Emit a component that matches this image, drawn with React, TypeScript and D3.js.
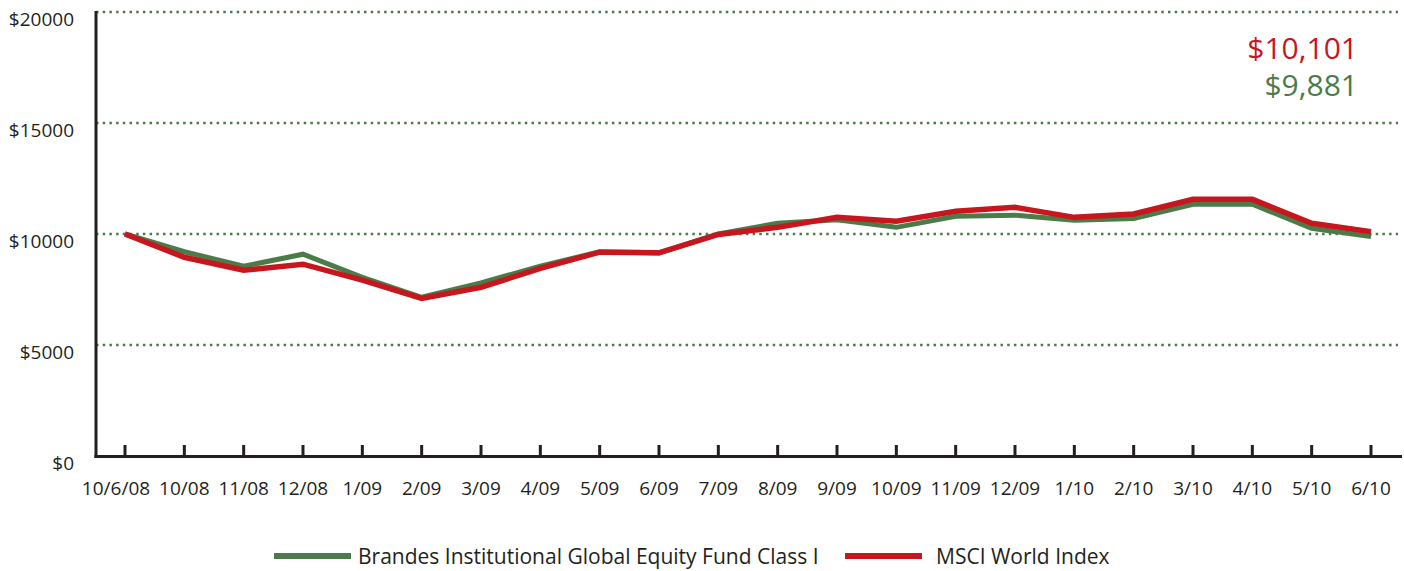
import { useEffect, useRef } from "react";
import * as d3 from "d3";

const dates = [
  "10/6/08", "10/08", "11/08", "12/08", "1/09", "2/09", "3/09", "4/09", "5/09", "6/09", "7/09",
  "8/09", "9/09", "10/09", "11/09", "12/09", "1/10", "2/10", "3/10", "4/10", "5/10", "6/10",
];

const fundValues = [
  10000, 9200, 8550, 9090, 8050, 7150, 7800, 8550, 9200, 9150, 10000,
  10480, 10640, 10300, 10800, 10850, 10620, 10700, 11340, 11340, 10260, 9881,
];

const indexValues = [
  10000, 8950, 8370, 8640, 7920, 7100, 7600, 8450, 9180, 9150, 9980,
  10300, 10750, 10575, 11025, 11200, 10750, 10900, 11560, 11560, 10480, 10101,
];

const yTicks = [0, 5000, 10000, 15000, 20000];

const seriesNames = ["Brandes Institutional Global Equity Fund Class I", "MSCI World Index"];

const GREEN = "#4b7b49";
const RED = "#c8161e";
const INK = "#231f20";
const FONT = "'Open Sans', sans-serif";

export default function App() {
  const svgRef = useRef<SVGSVGElement>(null);

  useEffect(() => {
    if (!svgRef.current) return;
    const width = 1404;
    const height = 571;

    const svg = d3.select(svgRef.current);
    svg.selectAll("*").remove();
    svg.attr("width", width).attr("height", height);

    const x = d3.scalePoint<string>().domain(dates).range([125, 1371]);
    const y = d3.scaleLinear().domain([0, 20000]).range([456, 12]);
    const axisX = 96;

    // dotted gridlines
    svg.selectAll(".grid")
      .data(yTicks.filter((d) => d > 0))
      .enter().append("line")
      .attr("x1", axisX).attr("x2", 1398)
      .attr("y1", (d) => y(d)).attr("y2", (d) => y(d))
      .attr("stroke", GREEN).attr("stroke-width", 2.5)
      .attr("stroke-dasharray", "2.5,4.2");

    // y labels
    svg.selectAll(".y-label")
      .data(yTicks)
      .enter().append("text")
      .attr("x", 74).attr("y", (d) => y(d) + 14)
      .attr("text-anchor", "end")
      .attr("fill", INK).attr("font-size", "19px").attr("font-family", FONT)
      .text((d) => `$${d}`);

    // axes
    svg.append("line")
      .attr("x1", axisX).attr("x2", axisX).attr("y1", 11).attr("y2", 458)
      .attr("stroke", INK).attr("stroke-width", 3);
    svg.append("line")
      .attr("x1", axisX - 1.5).attr("x2", 1402).attr("y1", y(0) + 0.5).attr("y2", y(0) + 0.5)
      .attr("stroke", INK).attr("stroke-width", 3);

    // ticks
    svg.selectAll(".tick")
      .data(dates)
      .enter().append("line")
      .attr("x1", (d) => x(d) ?? 0).attr("x2", (d) => x(d) ?? 0)
      .attr("y1", y(0) - 11).attr("y2", y(0))
      .attr("stroke", INK).attr("stroke-width", 3);

    // x labels (first one sits a little left of its tick, as in the source)
    svg.selectAll(".x-label")
      .data(dates)
      .enter().append("text")
      .attr("x", (d) => x(d) ?? 0).attr("y", 495)
      .attr("dx", (_, i) => (i === 0 ? -9 : 0))
      .attr("text-anchor", "middle")
      .attr("fill", INK).attr("font-size", "19px").attr("font-family", FONT)
      .text((d) => d);

    const line = d3.line<number>()
      .x((_, i) => x(dates[i]) ?? 0)
      .y((d) => y(d));

    svg.append("path")
      .datum(fundValues)
      .attr("d", line)
      .attr("fill", "none").attr("stroke", GREEN).attr("stroke-width", 5);

    svg.append("path")
      .datum(indexValues)
      .attr("d", line)
      .attr("fill", "none").attr("stroke", RED).attr("stroke-width", 5.5);

    // end values
    const fmt = d3.format("$,");
    svg.append("text")
      .attr("x", 1358).attr("y", 59).attr("text-anchor", "end")
      .attr("fill", RED).attr("font-size", "30px").attr("font-family", FONT)
      .text(fmt(indexValues[indexValues.length - 1]));
    svg.append("text")
      .attr("x", 1358).attr("y", 96).attr("text-anchor", "end")
      .attr("fill", GREEN).attr("font-size", "30px").attr("font-family", FONT)
      .text(fmt(fundValues[fundValues.length - 1]));

    // legend
    const legend = [
      { name: seriesNames[0], color: GREEN, x: 274, tx: 358 },
      { name: seriesNames[1], color: RED, x: 845, tx: 936 },
    ];
    const lg = svg.selectAll(".legend").data(legend).enter().append("g");
    lg.append("line")
      .attr("x1", (d) => d.x).attr("x2", (d) => d.x + 77)
      .attr("y1", 556).attr("y2", 556)
      .attr("stroke", (d) => d.color).attr("stroke-width", 6);
    lg.append("text")
      .attr("x", (d) => d.tx).attr("y", 564)
      .attr("fill", INK).attr("font-size", "21px").attr("font-family", FONT)
      .text((d) => d.name);
  }, []);

  return (
    <svg
      ref={svgRef}
      style={{ position: "absolute", left: 0, top: 0, display: "block", background: "#fff" }}
    />
  );
}
